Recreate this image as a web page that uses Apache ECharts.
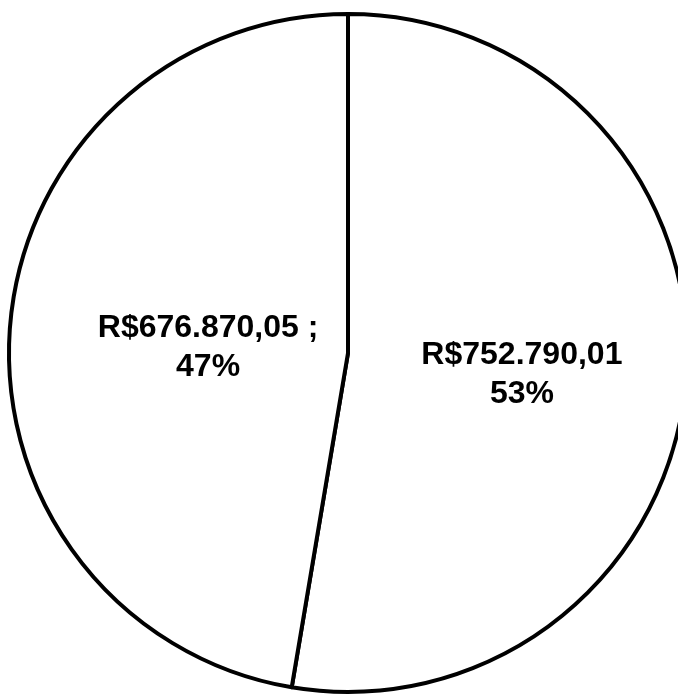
<!DOCTYPE html>
<html>
<head>
<meta charset="utf-8">
<script src="https://cdn.jsdelivr.net/npm/echarts@6/dist/echarts.min.js"></script>
<style>
html,body{margin:0;padding:0;background:#fff;}
#chart{width:678px;height:698px;}
</style>
</head>
<body>
<div id="chart"></div>
<script>
const categories = ['Parte A', 'Parte B'];
const values = [752790.01, 676870.05];
const separators = ['', ' ;'];

function brl(v) {
  const parts = v.toFixed(2).split('.');
  const intPart = parts[0].replace(/\B(?=(\d{3})+(?!\d))/g, '.');
  return 'R$' + intPart + ',' + parts[1];
}

const chart = echarts.init(document.getElementById('chart'));
chart.setOption({
  animation: false,
  backgroundColor: '#fff',
  series: [{
    type: 'pie',
    center: [348, 353],
    radius: [0, 339],
    startAngle: 90,
    clockwise: true,
    data: categories.map((c, i) => ({ name: c, value: values[i] })),
    itemStyle: { color: '#ffffff', borderColor: '#000000', borderWidth: 4 },
    label: {
      show: true,
      position: 'inside',
      fontFamily: 'Liberation Sans, Arial, sans-serif',
      fontWeight: 'bold',
      fontSize: 32,
      lineHeight: 39,
      color: '#000',
      formatter: p => brl(p.value) + separators[p.dataIndex] + '\n' + Math.round(p.percent) + '%'
    },
    labelLayout: p => (p.dataIndex === 1 ? { dx: 32, dy: 9 } : { dx: 2, dy: 7 }),
    emphasis: { disabled: true },
    silent: true
  }]
});
</script>
</body>
</html>
